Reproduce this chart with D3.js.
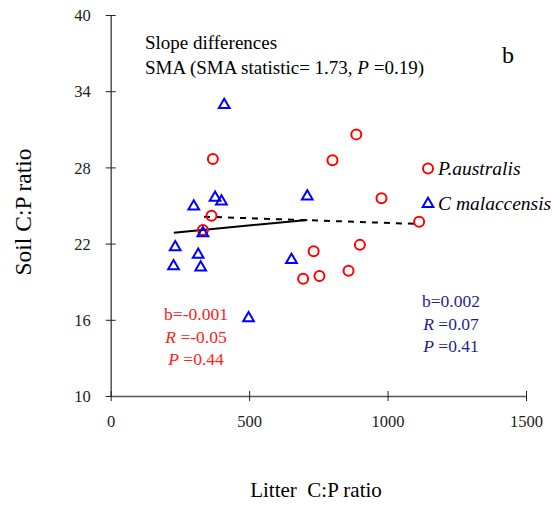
<!DOCTYPE html>
<html>
<head>
<meta charset="utf-8">
<script src="https://cdn.jsdelivr.net/npm/d3@7"></script>
<style>
body { margin: 0; background: #fff; }
</style>
</head>
<body>
<div id="figure"></div>
<script>
// P. australis (red circles)
var paX = [369, 364, 333, 801, 887, 978, 900, 733, 859, 754, 695, 1114];
var paY = [28.66, 24.2, 23.07, 28.56, 30.6, 25.57, 21.9, 21.4, 19.87, 19.45, 19.24, 23.72];
// C. malaccensis (blue triangles)
var cmX = [410, 377, 400, 300, 333, 233, 316, 227, 325, 710, 653, 498];
var cmY = [33.0, 25.7, 25.4, 25.0, 22.9, 21.8, 21.2, 20.3, 20.2, 25.8, 20.8, 16.2];
// SMA fitted lines
var paLine = [{x: 337, y: 24.12}, {x: 1105, y: 23.55}];
var cmLine = [{x: 228, y: 22.86}, {x: 710, y: 23.86}];
var xTicks = [0, 500, 1000, 1500];
var yTicks = [10, 16, 22, 28, 34, 40];

var w = 553, h = 506;
var svg = d3.select("#figure").append("svg")
    .attr("width", w).attr("height", h);

var xScale = d3.scaleLinear().domain([0, 1500]).range([110.7, 526]);
var yScale = d3.scaleLinear().domain([10, 40]).range([396, 15]);

var axisColor = "#555";

// y axis
var yAxis = d3.axisLeft(yScale).tickValues(yTicks).tickFormat(d3.format("d"))
    .tickSizeInner(0).tickSizeOuter(0).tickPadding(0);
var gy = svg.append("g").attr("transform", "translate(" + xScale(0) + ",0)").call(yAxis);
gy.select(".domain").attr("stroke", axisColor).attr("stroke-width", 1.5);
gy.selectAll(".tick line").remove();
gy.selectAll(".tick").append("line")
    .attr("x1", -5).attr("x2", 5)
    .attr("stroke", "#222").attr("stroke-width", 1);
gy.selectAll(".tick text")
    .attr("x", -20).attr("dy", "0.35em")
    .style("font-size", "16.5px").attr("fill", "#222");

// x axis
var xAxis = d3.axisBottom(xScale).tickValues(xTicks).tickFormat(d3.format("d"))
    .tickSizeInner(0).tickSizeOuter(0).tickPadding(0);
var gx = svg.append("g").attr("transform", "translate(0," + yScale(10) + ")").call(xAxis);
gx.select(".domain").attr("stroke", axisColor).attr("stroke-width", 1.5);
gx.selectAll(".tick line").remove();
gx.selectAll(".tick").append("line")
    .attr("y1", -5).attr("y2", 5)
    .attr("stroke", "#222").attr("stroke-width", 1);
gx.selectAll(".tick text")
    .attr("y", 25).attr("dy", "0.35em")
    .style("font-size", "16.5px").attr("fill", "#222");

// axis titles
svg.append("text")
    .attr("transform", "translate(31,212) rotate(-90)")
    .attr("text-anchor", "middle")
    .style("font-size", "23.5px")
    .text("Soil C:P ratio");
svg.append("text")
    .attr("x", 316).attr("y", 497)
    .attr("text-anchor", "middle")
    .style("font-size", "21px")
    .style("white-space", "pre")
    .text("Litter  C:P ratio");

// fitted lines
var line = d3.line().x(function(d) { return xScale(d.x); }).y(function(d) { return yScale(d.y); });
svg.append("path").datum(cmLine)
    .attr("d", line).attr("stroke", "black").attr("stroke-width", 2).attr("fill", "none");
svg.append("path").datum(paLine)
    .attr("d", line).attr("stroke", "black").attr("stroke-width", 2)
    .attr("stroke-dasharray", "6,6").attr("fill", "none");

// points
var pa = paX.map(function(d, i) { return {x: d, y: paY[i]}; });
var cm = cmX.map(function(d, i) { return {x: d, y: cmY[i]}; });

var tri = d3.symbol().type(d3.symbolTriangle).size(50);

svg.selectAll("circle.pa").data(pa).enter().append("circle")
    .attr("class", "pa")
    .attr("cx", function(d) { return xScale(d.x); })
    .attr("cy", function(d) { return yScale(d.y); })
    .attr("r", 5)
    .attr("fill", "none").attr("stroke", "#ff0000").attr("stroke-width", 2);

svg.selectAll("path.cm").data(cm).enter().append("path")
    .attr("class", "cm")
    .attr("d", tri)
    .attr("transform", function(d) { return "translate(" + xScale(d.x) + "," + (yScale(d.y) + 1) + ")"; })
    .attr("fill", "none").attr("stroke", "#0000ff").attr("stroke-width", 2);

// legend
svg.append("circle").attr("cx", 428).attr("cy", 168.5).attr("r", 5)
    .attr("fill", "none").attr("stroke", "#ff0000").attr("stroke-width", 2);
svg.append("text").attr("x", 438).attr("y", 175)
    .style("font-size", "19.5px").style("font-style", "italic").text("P.australis");
svg.append("path").attr("d", tri).attr("transform", "translate(428,204)")
    .attr("fill", "none").attr("stroke", "#0000ff").attr("stroke-width", 2);
svg.append("text").attr("x", 438).attr("y", 210)
    .style("font-size", "19.5px").style("font-style", "italic").text("C malaccensis");

// annotation text
svg.append("text").attr("x", 145).attr("y", 49)
    .style("font-size", "19px").text("Slope differences");
var sma = svg.append("text").attr("x", 145).attr("y", 74).style("font-size", "19px");
sma.append("tspan").text("SMA (SMA statistic= 1.73, ");
sma.append("tspan").style("font-style", "italic").text("P");
sma.append("tspan").text(" =0.19)");
svg.append("text").attr("x", 502).attr("y", 63)
    .style("font-size", "24px").text("b");

function statBlock(x, y, color, b, r, p) {
    var g = svg.append("g").attr("fill", color).style("font-size", "17.5px");
    g.append("text").attr("x", x).attr("y", y).attr("text-anchor", "middle").text("b=" + b);
    var t2 = g.append("text").attr("x", x).attr("y", y + 23).attr("text-anchor", "middle");
    t2.append("tspan").style("font-style", "italic").text("R");
    t2.append("tspan").text(" =" + r);
    var t3 = g.append("text").attr("x", x).attr("y", y + 45).attr("text-anchor", "middle");
    t3.append("tspan").style("font-style", "italic").text("P");
    t3.append("tspan").text(" =" + p);
}
statBlock(196, 320, "#ff2020", "-0.001", "-0.05", "0.44");
statBlock(451, 306.5, "#1f1f8f", "0.002", "0.07", "0.41");

// serif everywhere
svg.selectAll("text").style("font-family", "Liberation Serif");
</script>
</body>
</html>
